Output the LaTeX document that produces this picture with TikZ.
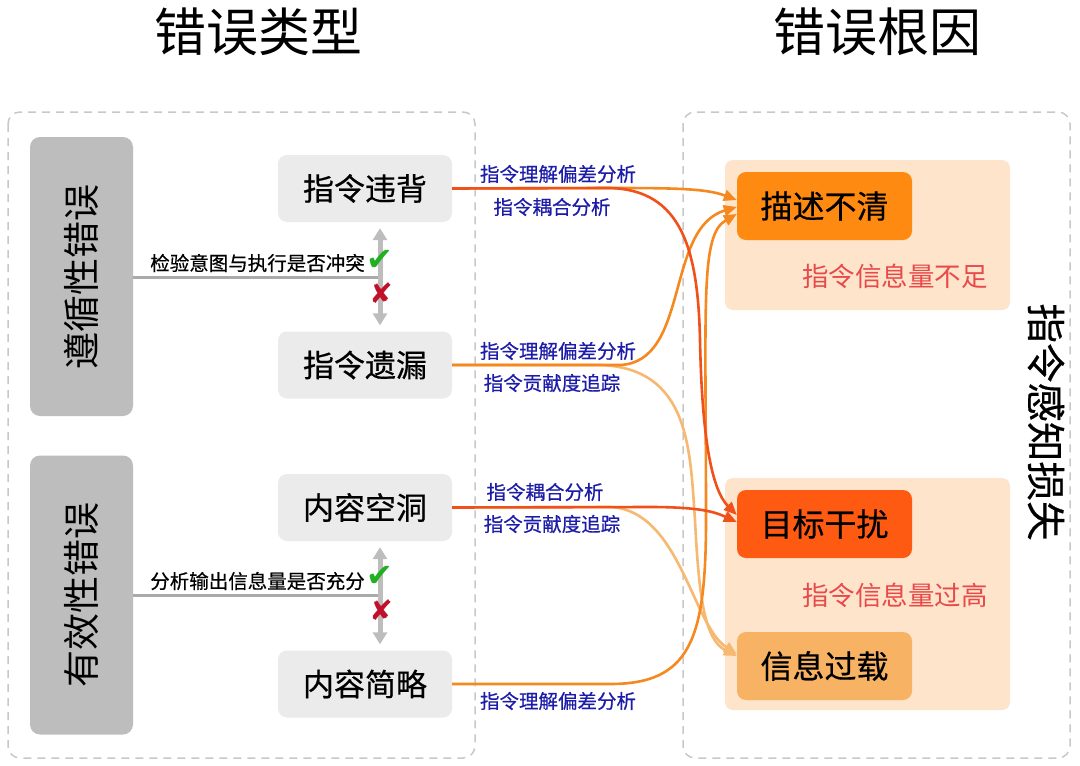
\documentclass[tikz,border=0pt]{standalone}
\usepackage{fontspec}
\setmainfont{Noto Sans CJK SC}
\newfontfamily\medfont{Noto Sans CJK SC}[FakeBold=0.5]
\newfontfamily\symfont{DejaVu Sans}
\usetikzlibrary{arrows.meta}
\definecolor{catgray}{HTML}{BDBDBD}
\definecolor{midgray}{HTML}{EBEBEB}
\definecolor{dashgray}{HTML}{C8C8C8}
\definecolor{peach}{HTML}{FEE4CB}
\definecolor{orA}{HTML}{FF8A12}
\definecolor{orB}{HTML}{FF5A12}
\definecolor{orC}{HTML}{F8B264}
\definecolor{lnA}{HTML}{F5891F}
\definecolor{lnB}{HTML}{F0501A}
\definecolor{lnC}{HTML}{F7B870}
\definecolor{bluetxt}{HTML}{1C1CA8}
\definecolor{redtxt}{HTML}{E84A4A}
\definecolor{chk}{HTML}{22B022}
\definecolor{crs}{HTML}{C0102A}
\begin{document}
\begin{tikzpicture}[x=1pt,y=-1pt,
  title/.style={font=\fontsize{52}{60}\selectfont},
  cat/.style={fill=catgray,rounded corners=10pt,minimum width=279pt,minimum height=103pt,inner sep=0pt,font=\fontsize{37}{40}\selectfont},
  mid/.style={fill=midgray,rounded corners=9pt,minimum width=174pt,minimum height=67pt,inner sep=0pt,font=\medfont\fontsize{31}{34}\selectfont},
  cause/.style={rounded corners=9pt,minimum width=175pt,minimum height=68pt,inner sep=0pt,font=\medfont\fontsize{32}{34}\selectfont},
  bg/.style={fill=peach,rounded corners=8pt,inner sep=0pt},
  lab/.style={text=bluetxt,font=\medfont\fontsize{19.5}{22}\selectfont,inner sep=0pt},
  rlab/.style={text=redtxt,font=\fontsize{26.5}{30}\selectfont,inner sep=0pt},
  glab/.style={font=\medfont\fontsize{19.5}{22}\selectfont,inner sep=0pt},
  dbox/.style={draw=dashgray,dashed,line width=1.5pt,dash pattern=on 8pt off 6pt,rounded corners=12pt},
  conn/.style={line width=2.6pt,-{Triangle[length=13pt,width=11pt]}},
  dbl/.style={draw=catgray,line width=5pt,{Triangle[length=12pt,width=14pt]}-{Triangle[length=12pt,width=14pt]}},
  hl/.style={draw=catgray!90!black,line width=3pt}
]
\useasboundingbox (0,0) rectangle (1080,766);
\fill[white] (0,0) rectangle (1080,766);

% titles
\node[title] (t1) at (258,32) {错误类型};
\node[title] (t2) at (877,32) {错误根因};

% dashed containers
\draw[dbox] (8,112) rectangle (475,758);
\draw[dbox] (683,112) rectangle (1070,758);

% categories
\node[cat,rotate=90] (c1) at (81.5,276.5) {遵循性错误};
\node[cat,rotate=90] (c2) at (81.5,595) {有效性错误};

% middle nodes
\node[mid] (v1) at (365,188.5) {指令违背};
\node[mid] (v2) at (365,365) {指令遗漏};
\node[mid] (v3) at (365,507.5) {内容空洞};
\node[mid] (v4) at (365,684) {内容简略};

% checks
\coordinate (j1) at (380,277);
\coordinate (j2) at (380,595);
\draw[hl] (c1.south |- j1) -- (j1);
\draw[hl] (c2.south |- j2) -- (j2);
\draw[dbl] ([xshift=15pt,yshift=-6pt]v1.south) -- ([xshift=15pt,yshift=6pt]v2.north);
\draw[dbl] ([xshift=15pt,yshift=-6pt]v3.south) -- ([xshift=15pt,yshift=6pt]v4.north);
\node[glab,anchor=east] (g1) at (365,263) {检验意图与执行是否冲突};
\node[glab,anchor=east] (g2) at (365,581) {分析输出信息量是否充分};
\node[text=chk,font=\symfont\fontsize{32}{34}\selectfont,inner sep=0pt] (k1) at (380,260) {✔};
\node[text=crs,font=\symfont\fontsize{28}{30}\selectfont,inner sep=0pt] (x1) at (381,293) {✘};
\node[text=chk,font=\symfont\fontsize{32}{34}\selectfont,inner sep=0pt] (k2) at (380,576) {✔};
\node[text=crs,font=\symfont\fontsize{28}{30}\selectfont,inner sep=0pt] (x2) at (381,610) {✘};

% right side backgrounds
\node[bg,minimum width=285pt,minimum height=150pt] (b1) at (867.5,235) {};
\node[bg,minimum width=285pt,minimum height=232pt] (b2) at (867.5,594) {};
\node[cause,fill=orA] (d1) at (824.5,206) {描述不清};
\node[cause,fill=orB] (d2) at (824.5,524) {目标干扰};
\node[cause,fill=orC] (d3) at (824.5,666) {信息过载};
\node[rlab] (r1) at (895,276) {指令信息量不足};
\node[rlab] (r2) at (895,595) {指令信息量过高};
\node[font=\medfont\fontsize{39.5}{42}\selectfont,rotate=-90,inner sep=0pt] (s1) at (1046,422) {指令感知损失};

% connectors
\draw[conn,lnC] (v2.east) -- (600,365) .. controls (690,368) and (690,450) .. (695,520) .. controls (699,600) and (705,640) .. ([yshift=10pt]d3.west);
\draw[conn,lnC] (v3.east) -- (610,507) .. controls (680,510) and (692,625) .. ([yshift=12pt]d3.west);
\draw[conn,lnA] (v4.east) -- (610,684) .. controls (690,684) and (706,640) .. (706,520) .. controls (706,300) and (700,235) .. ([yshift=-8pt]d1.west);
\draw[conn,lnA] (v2.east) -- (620,365) .. controls (690,362) and (665,228) .. ([yshift=-1pt]d1.west);
\draw[conn,lnA] (v1.east) -- (600,188) .. controls (670,188) and (705,188) .. ([yshift=6pt]d1.west);
\draw[conn,lnB] (v1.east) -- (610,188) .. controls (682,190) and (698,250) .. (700,340) .. controls (702,440) and (712,490) .. ([yshift=9pt]d2.west);
\draw[conn,lnB] (v3.east) -- (650,507) .. controls (700,507) and (715,512) .. ([yshift=2pt]d2.west);

% connector labels
\node[lab] (l1) at (558,174) {指令理解偏差分析};
\node[lab] (l2) at (552,207) {指令耦合分析};
\node[lab] (l3) at (558,351) {指令理解偏差分析};
\node[lab] (l4) at (552,383) {指令贡献度追踪};
\node[lab] (l5) at (545,492) {指令耦合分析};
\node[lab] (l6) at (552,524) {指令贡献度追踪};
\node[lab] (l7) at (558,701) {指令理解偏差分析};
\end{tikzpicture}
\end{document}
